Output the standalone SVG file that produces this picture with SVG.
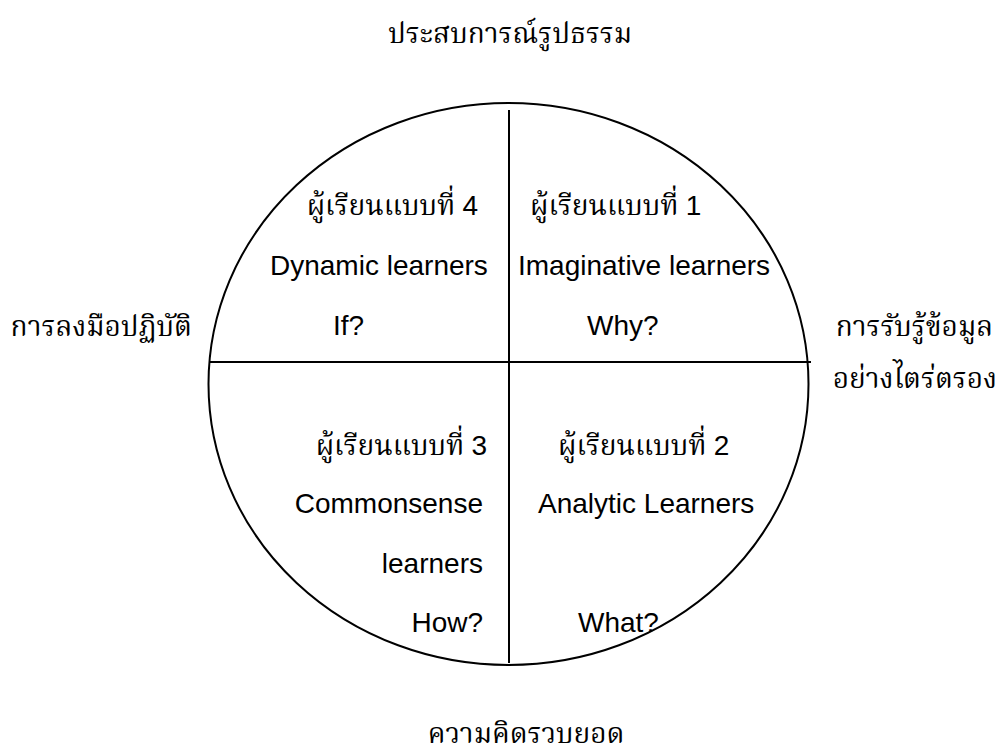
<svg xmlns="http://www.w3.org/2000/svg" width="1000" height="756" viewBox="0 0 1000 756">
<style>
.th{font-family:"Noto Serif Thai","Liberation Serif","Noto Sans",serif;font-size:28px;fill:#000}
.en{font-family:"Liberation Sans",Arial,sans-serif;font-size:28px;fill:#000}
.ln{stroke:#000;stroke-width:2;fill:none}
</style>
<rect width="1000" height="756" fill="#fff"/>
<g id="frame">
<ellipse class="ln" cx="508.5" cy="384" rx="300" ry="281"/>
</g>
<g id="connectors">
<line class="ln" x1="509" y1="110" x2="509" y2="663"/>
<line class="ln" x1="210" y1="362" x2="811" y2="362"/>
</g>
<g id="axis-top"><text class="th" x="510" y="43" text-anchor="middle">ประสบการณ์รูปธรรม</text></g>
<g id="axis-left"><text class="th" x="192" y="336" text-anchor="end">การลงมือปฏิบัติ</text></g>
<g id="axis-right"><text class="th" x="993" y="336" text-anchor="end">การรับรู้ข้อมูล</text><text class="th" x="997" y="388" text-anchor="end">อย่างไตร่ตรอง</text></g>
<g id="axis-bottom"><text class="th" x="526" y="743" text-anchor="middle">ความคิดรวบยอด</text></g>
<g id="q4">
<text class="th" x="478" y="215" text-anchor="end">ผู้เรียนแบบที่ <tspan class="en">4</tspan></text>
<text class="en" x="270" y="275">Dynamic learners</text>
<text class="en" x="333" y="335">If?</text>
</g>
<g id="q1">
<text class="th" x="530" y="215">ผู้เรียนแบบที่ <tspan class="en">1</tspan></text>
<text class="en" x="518" y="275">Imaginative learners</text>
<text class="en" x="587" y="335">Why?</text>
</g>
<g id="q3">
<text class="th" x="487" y="455" text-anchor="end">ผู้เรียนแบบที่ <tspan class="en">3</tspan></text>
<text class="en" x="483" y="513" text-anchor="end">Commonsense</text>
<text class="en" x="483" y="573" text-anchor="end">learners</text>
<text class="en" x="483" y="632" text-anchor="end">How?</text>
</g>
<g id="q2">
<text class="th" x="558" y="455">ผู้เรียนแบบที่ <tspan class="en">2</tspan></text>
<text class="en" x="538" y="513">Analytic Learners</text>
<text class="en" x="578" y="632">What?</text>
</g>
</svg>
